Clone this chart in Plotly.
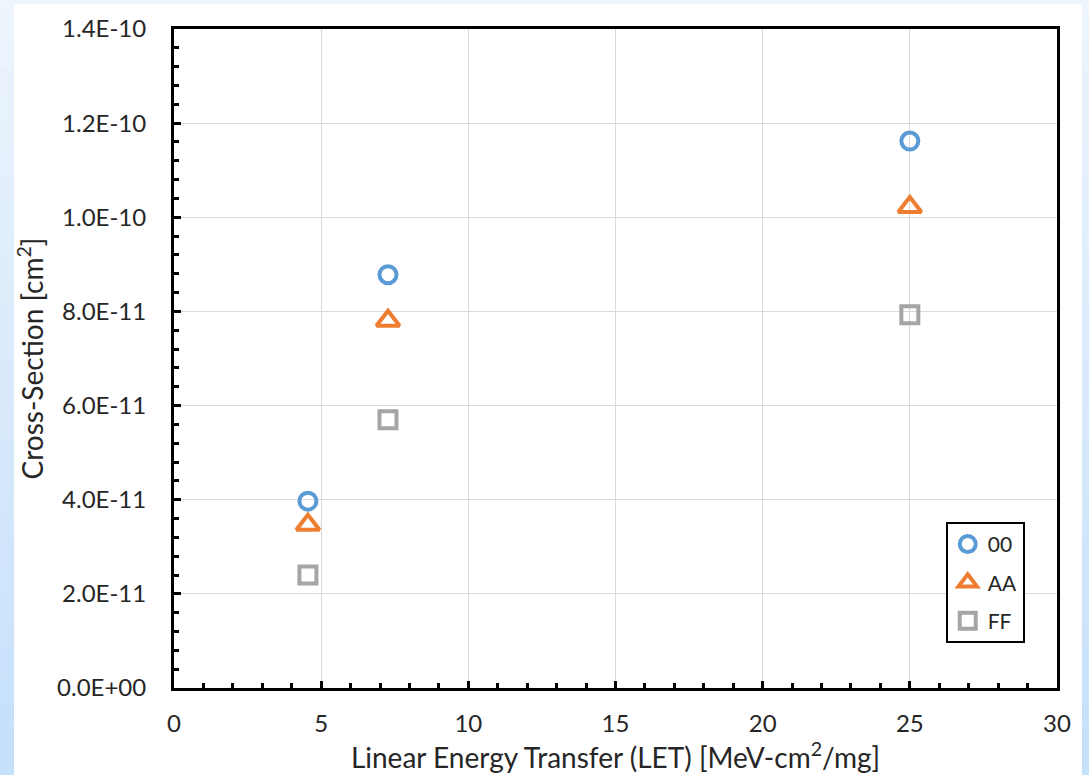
import plotly.graph_objects as go

let_x = [4.55, 7.27, 25.0]
sigma_00 = [3.97e-11, 8.78e-11, 11.62e-11]
sigma_AA = [3.47e-11, 7.80e-11, 10.22e-11]
sigma_FF = [2.40e-11, 5.70e-11, 7.93e-11]

series_names = ["00", "AA", "FF"]
series_colors = ["#5B9BD5", "#ED7D31", "#A5A5A5"]
series_symbols = ["circle-open", "triangle-up-open", "square-open"]
series_sizes = [17, 20, 17]

y_tickvals = [0, 2e-11, 4e-11, 6e-11, 8e-11, 1.0e-10, 1.2e-10, 1.4e-10]
y_ticktext = ["0.0E+00", "2.0E-11", "4.0E-11", "6.0E-11", "8.0E-11", "1.0E-10", "1.2E-10", "1.4E-10"]
x_tickvals = [0, 5, 10, 15, 20, 25, 30]

FONT = "Lato, 'Open Sans', sans-serif"
TXT = "#262626"

fig = go.Figure()
for name, ys, col, sym, sz in zip(series_names, [sigma_00, sigma_AA, sigma_FF], series_colors, series_symbols, series_sizes):
    fig.add_trace(go.Scatter(
        x=let_x, y=ys, mode="markers", name=name, legendgroup=name,
        marker=dict(symbol=sym, size=sz, color=col, line=dict(width=4, color=col)),
    ))

# background gradient bands (light blue) and white panel
shapes = []
n = 30
for i in range(n):
    t = i / (n - 1)
    r = int(238 + (197 - 238) * t)
    g = int(245 + (224 - 245) * t)
    b = int(253 + (251 - 253) * t)
    shapes.append(dict(type="rect", xref="paper", yref="paper", layer="below",
                       x0=-0.2, x1=1.05, y0=1 - (i + 1) / n * 1.2 + 0.06, y1=1 - i / n * 1.2 + 0.06,
                       line=dict(width=0), fillcolor=f"rgb({r},{g},{b})"))
shapes.append(dict(type="rect", xref="paper", yref="paper", layer="below",
                   x0=(14 - 174) / 883, x1=(1082 - 174) / 883,
                   y0=(688 - 775) / 659 - 0.01, y1=(688 - 4) / 659,
                   line=dict(width=0), fillcolor="white"))

fig.update_layout(
    width=1089, height=775,
    margin=dict(l=174, r=32, t=29, b=87),
    paper_bgcolor="#DCEBFC", plot_bgcolor="white",
    font=dict(family=FONT, size=24, color=TXT),
    shapes=shapes,
    showlegend=True,
    legend=dict(x=0.874, y=0.252, xanchor="left", yanchor="top",
                bordercolor="black", borderwidth=2, bgcolor="white",
                font=dict(size=21, family=FONT, color=TXT),
                tracegroupgap=8, itemwidth=30),
    xaxis=dict(range=[0, 30], tickvals=x_tickvals, ticks="inside", ticklen=7, tickwidth=3,
               tickcolor="black", showline=True, linecolor="black", linewidth=3, mirror=True,
               showgrid=True, gridcolor="#D9D9D9", gridwidth=1, zeroline=False,
               minor=dict(dtick=1, ticks="inside", ticklen=5, tickwidth=3, tickcolor="black", showgrid=False),
               tickfont=dict(size=24), ticklabelstandoff=12,
               title=dict(text="Linear Energy Transfer (LET) [MeV-cm<sup>2</sup>/mg]", font=dict(size=28), standoff=4)),
    yaxis=dict(range=[0, 1.4e-10], tickvals=y_tickvals, ticktext=y_ticktext, ticks="inside", ticklen=7, tickwidth=3,
               tickcolor="black", showline=True, linecolor="black", linewidth=3, mirror=True,
               showgrid=True, gridcolor="#D9D9D9", gridwidth=1, zeroline=False,
               minor=dict(dtick=4e-12, tick0=0, ticks="inside", ticklen=5, tickwidth=3, tickcolor="black", showgrid=False),
               tickfont=dict(size=24), ticklabelstandoff=20,
               title=dict(text="Cross-Section [cm<sup>2</sup>]", font=dict(size=28), standoff=6)),
)

fig.write_html("out.html")
